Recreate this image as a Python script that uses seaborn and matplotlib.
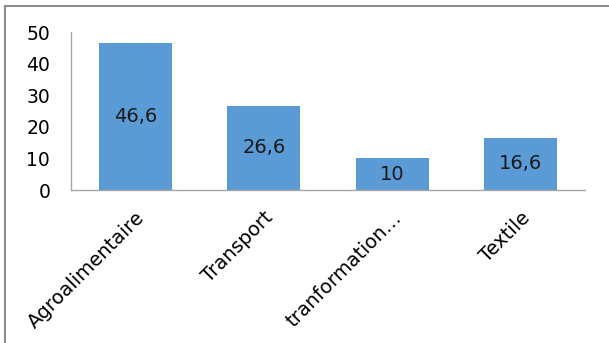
import matplotlib
matplotlib.use("Agg")
import matplotlib.pyplot as plt
import seaborn as sns
import pandas as pd
from matplotlib.lines import Line2D

categories = ["Agroalimentaire", "Transport", "tranformation…", "Textile"]
values = [46.6, 26.6, 10, 16.6]
value_labels = ["46,6", "26,6", "10", "16,6"]
yticks = [0, 10, 20, 30, 40, 50]

sns.set_theme(style="white")
plt.rcParams['font.family'] = ['DejaVu Sans']

W, H = 609, 343
fig = plt.figure(figsize=(W / 100, H / 100), dpi=100)
ax = fig.add_axes([71 / W, 1 - 190 / H, (585 - 71) / W, (190 - 32) / H])

df = pd.DataFrame({"cat": categories, "val": values})
sns.barplot(data=df, x="cat", y="val", color="#5B9BD5", saturation=1,
            width=0.57, ax=ax, linewidth=0)

ax.set_xlim(-0.5, 3.5)
ax.set_ylim(0, 50)
ax.set_yticks(yticks)
ax.set_yticklabels([str(t) for t in yticks], fontsize=13.5, color="#000000")
ax.set_xlabel("")
ax.set_ylabel("")
ax.tick_params(axis="both", length=0)
ax.tick_params(axis="y", pad=15)
ax.tick_params(axis="x", pad=13)
ax.set_xticks(range(len(categories)))
ax.set_xticklabels(categories, rotation=45, ha="right", rotation_mode="anchor",
                   fontsize=14, color="#000000")

for s in ["top", "right"]:
    ax.spines[s].set_visible(False)
for s in ["left", "bottom"]:
    ax.spines[s].set_color("#A6A6A6")
    ax.spines[s].set_linewidth(1.0)

for i, (v, lab) in enumerate(zip(values, value_labels)):
    ax.text(i, v / 2, lab, ha="center", va="center", fontsize=14, color="#1a1a1a")

# outer chart frame (top and left edges visible)
fig.add_artist(Line2D([4.5 / W, 4.5 / W], [0, 1 - 6 / H], transform=fig.transFigure,
                      color="#8C8C8C", linewidth=1.5))
fig.add_artist(Line2D([4.5 / W, 1], [1 - 6 / H, 1 - 6 / H], transform=fig.transFigure,
                      color="#8C8C8C", linewidth=1.5))

fig.savefig("out.png", dpi=100, facecolor="white")
